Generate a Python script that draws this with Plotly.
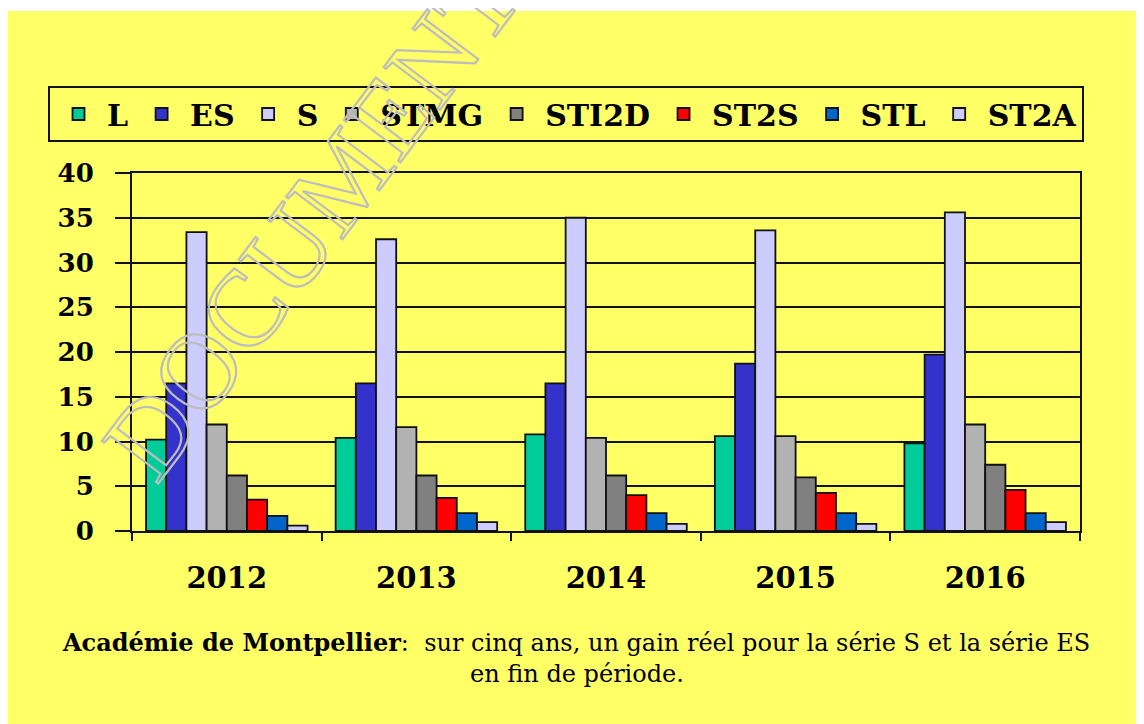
import plotly.graph_objects as go

years = ["2012", "2013", "2014", "2015", "2016"]
series_names = ["L", "ES", "S", "STMG", "STI2D", "ST2S", "STL", "ST2A"]
L_vals = [10.2, 10.4, 10.8, 10.6, 9.8]
ES_vals = [16.5, 16.5, 16.5, 18.7, 19.7]
S_vals = [33.4, 32.6, 35.0, 33.6, 35.6]
STMG_vals = [11.9, 11.6, 10.4, 10.6, 11.9]
STI2D_vals = [6.2, 6.2, 6.2, 6.0, 7.4]
ST2S_vals = [3.5, 3.7, 4.0, 4.25, 4.6]
STL_vals = [1.7, 2.0, 2.0, 2.0, 2.0]
ST2A_vals = [0.6, 1.0, 0.8, 0.8, 1.0]
y_ticks = [0, 5, 10, 15, 20, 25, 30, 35, 40]
colors = ["#00CC99", "#3333CC", "#CCCCFF", "#B2B2B2", "#808080", "#FF0000", "#0066CC", "#CCCCFF"]
caption_1 = "<b>Académie de Montpellier</b>:  sur cinq ans, un gain réel pour la série S et la série ES"
caption_2 = "en fin de période."
watermark = "DOCUMENT"

all_vals = [L_vals, ES_vals, S_vals, STMG_vals, STI2D_vals, ST2S_vals, STL_vals, ST2A_vals]

OFF = 8  # default page body margin
W, H = 1144 - OFF, 724 - OFF
L_M, T_M = 132 - OFF, 173 - OFF
PW, PH = 948, 358
R_M = W - L_M - PW
B_M = H - T_M - PH


def px(x):
    return (x - OFF - L_M) / PW


def py(y):
    return (T_M + PH - (y - OFF)) / PH


BOLD = "DejaVu Serif"
YELLOW = "#FFFF66"

fig = go.Figure()
for name, vals, col in zip(series_names, all_vals, colors):
    fig.add_trace(go.Bar(
        x=years, y=vals, name=name,
        marker=dict(color=col, line=dict(color="#111111", width=1.8)),
    ))

fig.update_layout(
    width=W, height=H, autosize=False,
    margin=dict(l=L_M, r=R_M, t=T_M, b=B_M, pad=0),
    paper_bgcolor="white",
    plot_bgcolor="rgba(0,0,0,0)",
    barmode="group", bargap=0.148, bargroupgap=0,
    font=dict(family=BOLD, color="black"),
    showlegend=True,
    legend=dict(
        orientation="h", x=px(48), y=py(86), xanchor="left", yanchor="top",
        bgcolor=YELLOW, bordercolor="#111111", borderwidth=2,
        font=dict(family=BOLD, size=30, color="black", weight="bold"),
        traceorder="normal", itemwidth=47, itemclick=False,
    ),
    xaxis=dict(
        type="category", tickson="boundaries", ticks="outside", ticklen=8,
        tickwidth=2, tickcolor="#111111", showline=True, linecolor="#111111",
        linewidth=2, mirror=True, showgrid=False,
        tickfont=dict(family=BOLD, size=29, color="black", weight="bold"),
        ticklabelstandoff=20,
    ),
    yaxis=dict(
        range=[0, 40], tickvals=y_ticks, ticks="outside", ticklen=15,
        tickwidth=2, tickcolor="#111111", showline=True, linecolor="#111111",
        linewidth=2, mirror=True, showgrid=True, gridcolor="#111111",
        gridwidth=2, zeroline=False,
        tickfont=dict(family=BOLD, size=26, color="black", weight="bold"),
        ticklabelstandoff=16,
    ),
    shapes=[dict(
        type="rect", xref="paper", yref="paper", layer="below",
        x0=px(7), x1=px(1160), y0=py(740), y1=py(11),
        fillcolor=YELLOW, line=dict(width=0),
    )],
    annotations=[
        dict(text=caption_1, xref="paper", yref="paper", x=px(576), y=py(642),
             showarrow=False, xanchor="center", yanchor="middle",
             font=dict(family=BOLD, size=24, color="black")),
        dict(text=caption_2, xref="paper", yref="paper", x=px(577), y=py(674),
             showarrow=False, xanchor="center", yanchor="middle",
             font=dict(family=BOLD, size=24, color="black")),
        dict(text=watermark, xref="paper", yref="paper", x=px(312), y=py(220),
             showarrow=False, xanchor="center", yanchor="middle", textangle=-53,
             font=dict(family="Liberation Serif", size=108, color="#BDBDBD")),
    ],
)

post = """
var gd = document.getElementById('{plot_id}');
gd.querySelectorAll('.annotation-text').forEach(function(t){
  if (t.textContent === 'DOCUMENT') {
    t.style.fill = 'none';
    t.style.stroke = '#BDBDBD';
    t.style.strokeWidth = '2.2px';
  }
});
"""

fig.write_html("out.html", post_script=post)
